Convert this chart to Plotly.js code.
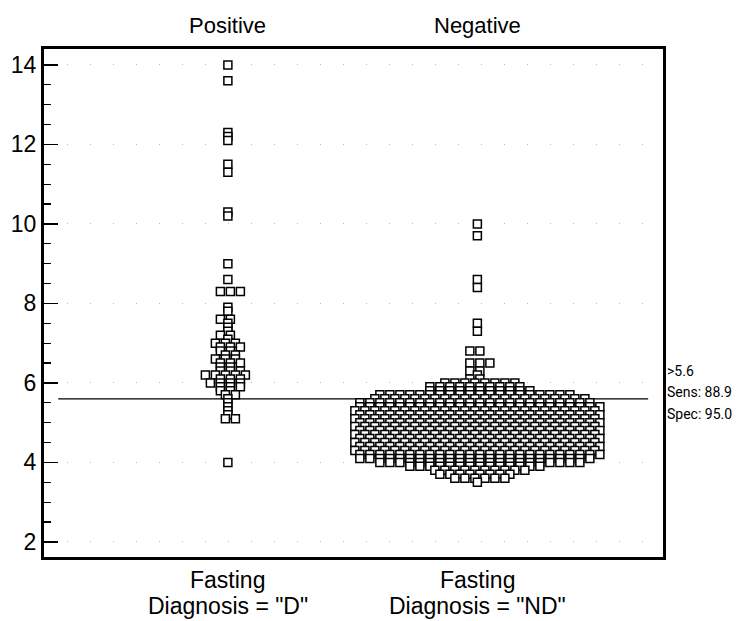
<!DOCTYPE html>
<html>
<head>
<meta charset="utf-8">
<script src="https://cdn.plot.ly/plotly-3.0.1.min.js"></script>
<style>html,body{margin:0;padding:0;background:#fff;}#chart{width:741px;height:621px;}</style>
</head>
<body>
<div id="chart"></div>
<script>
// ---- data ----
const groupHeaders = ["Positive", "Negative"];
const groupTop = ["Fasting", "Fasting"];
const groupBottom = ['Diagnosis = "D"', 'Diagnosis = "ND"'];

// Positive group: glucose value and number of cases at that value
const posValues = [14.0, 13.6, 12.3, 12.2, 12.1, 11.5, 11.3, 10.3, 10.2, 9.0, 8.6, 8.3,
  7.9, 7.8, 7.6, 7.5, 7.4, 7.3, 7.2, 7.1, 7.0, 6.9, 6.8, 6.7, 6.6, 6.5, 6.4, 6.3, 6.2, 6.1, 6.0,
  5.9, 5.8, 5.7, 5.6, 5.5, 5.4, 5.3, 5.2, 5.1, 4.0];
const posCounts = [1, 1, 1, 1, 1, 1, 1, 1, 1, 1, 1, 3,
  1, 1, 2, 1, 1, 1, 2, 1, 3, 3, 2, 2, 3, 3, 2, 3, 5, 3, 4,
  3, 2, 2, 1, 1, 1, 1, 1, 2, 1];

// Negative group
const negValues = [10.0, 9.7, 8.6, 8.4, 7.5, 7.3, 6.8, 6.5, 6.3, 6.2, 6.1, 6.0, 5.9, 5.8, 5.7,
  5.6, 5.5, 5.4, 5.3, 5.2, 5.1, 5.0, 4.9, 4.8, 4.7, 4.6, 4.5, 4.4, 4.3, 4.2, 4.1, 4.0,
  3.9, 3.8, 3.7, 3.6, 3.5];
const negCounts = [1, 1, 1, 1, 1, 1, 2, 3, 2, 1, 2, 8, 10, 11, 20,
  22, 24, 25, 25, 25, 25, 25, 25, 25, 25, 25, 25, 25, 25, 25, 24, 21,
  14, 10, 8, 6, 1];

const cutoff = 5.6;
const cutoffLabels = [">5.6", "Sens: 88.9", "Spec: 95.0"];
const cutoffLabelY = [6.29, 5.76, 5.23];

// ---- layout geometry ----
const W = 741, H = 621;
const margin = {l: 44, r: 78, t: 49, b: 64};
const xRange = [0.263, 2.744];
const yRange = [1.62, 14.4];
const plotW = W - margin.l - margin.r;
const unitsPerPx = (xRange[1] - xRange[0]) / plotW;
const pitch = 10 * unitsPerPx;  // horizontal spacing of dots

// dot-plot layout: each value row spread sideways around the group centre
function dotLayout(center, values, counts) {
  const xs = [], ys = [];
  const order = values.map((v, i) => i).sort((a, b) => values[b] - values[a]);
  order.forEach((idx, k) => {
    const n = counts[idx];
    const shift = (n > 1) ? ((k % 2) ? pitch / 4 : -pitch / 4) : 0;
    for (let i = 0; i < n; i++) {
      xs.push(center + (i - (n - 1) / 2) * pitch + shift);
      ys.push(values[idx]);
    }
  });
  return {xs, ys};
}

const pos = dotLayout(1, posValues, posCounts);
const neg = dotLayout(2, negValues, negCounts);

const markerStyle = {symbol: "square", size: 8, color: "#ffffff", line: {color: "#000000", width: 1.5}};

const traces = [
  {type: "scatter", mode: "markers", x: pos.xs, y: pos.ys, marker: markerStyle, name: groupHeaders[0], hoverinfo: "y"},
  {type: "scatter", mode: "markers", x: neg.xs, y: neg.ys, marker: markerStyle, name: groupHeaders[1], hoverinfo: "y"}
];

const font = "Liberation Sans, Arial, sans-serif";
const narrow = "Roboto, Liberation Sans Narrow, Open Sans, sans-serif";

const annotations = [];
[1, 2].forEach((c, i) => {
  annotations.push({x: c, y: 1.047, xref: "x", yref: "paper", text: groupHeaders[i], showarrow: false,
    xanchor: "center", yanchor: "middle", font: {family: font, size: 22, color: "#000"}});
  annotations.push({x: c, y: -0.045, xref: "x", yref: "paper", text: groupTop[i], showarrow: false,
    xanchor: "center", yanchor: "middle", font: {family: font, size: 23, color: "#000"}});
  annotations.push({x: c, y: -0.097, xref: "x", yref: "paper", text: groupBottom[i], showarrow: false,
    xanchor: "center", yanchor: "middle", font: {family: font, size: 23, color: "#000"}});
});
cutoffLabels.forEach((t, i) => {
  annotations.push({x: 1.004, y: cutoffLabelY[i], xref: "paper", yref: "y", text: t, showarrow: false,
    xanchor: "left", yanchor: "middle", font: {family: narrow, size: 14, color: "#000"}});
});

const layout = {
  width: W, height: H,
  margin: margin,
  paper_bgcolor: "#fff", plot_bgcolor: "#fff",
  showlegend: false,
  font: {family: font, color: "#000"},
  xaxis: {range: xRange, showticklabels: false, ticks: "", showgrid: false, zeroline: false,
    showline: true, mirror: true, linecolor: "#000", linewidth: 3},
  yaxis: {range: yRange, tickvals: [2, 4, 6, 8, 10, 12, 14], ticks: "inside", ticklen: 14, tickwidth: 1.5,
    tickcolor: "#000", tickfont: {family: font, size: 23, color: "#000"},
    minor: {dtick: 0.5, ticks: "inside", ticklen: 7, tickwidth: 1.2, tickcolor: "#000", showgrid: false},
    showgrid: true, gridcolor: "#bbbbbb", gridwidth: 1, griddash: "1px,22px",
    zeroline: false, showline: true, mirror: true, linecolor: "#000", linewidth: 3},
  shapes: [{type: "line", xref: "paper", yref: "y", x0: 0.023, x1: 0.976, y0: cutoff, y1: cutoff,
    line: {color: "#000", width: 1.3}, layer: "below"}],
  annotations: annotations
};

Plotly.newPlot("chart", traces, layout, {displayModeBar: false, staticPlot: true});
</script>
</body>
</html>
